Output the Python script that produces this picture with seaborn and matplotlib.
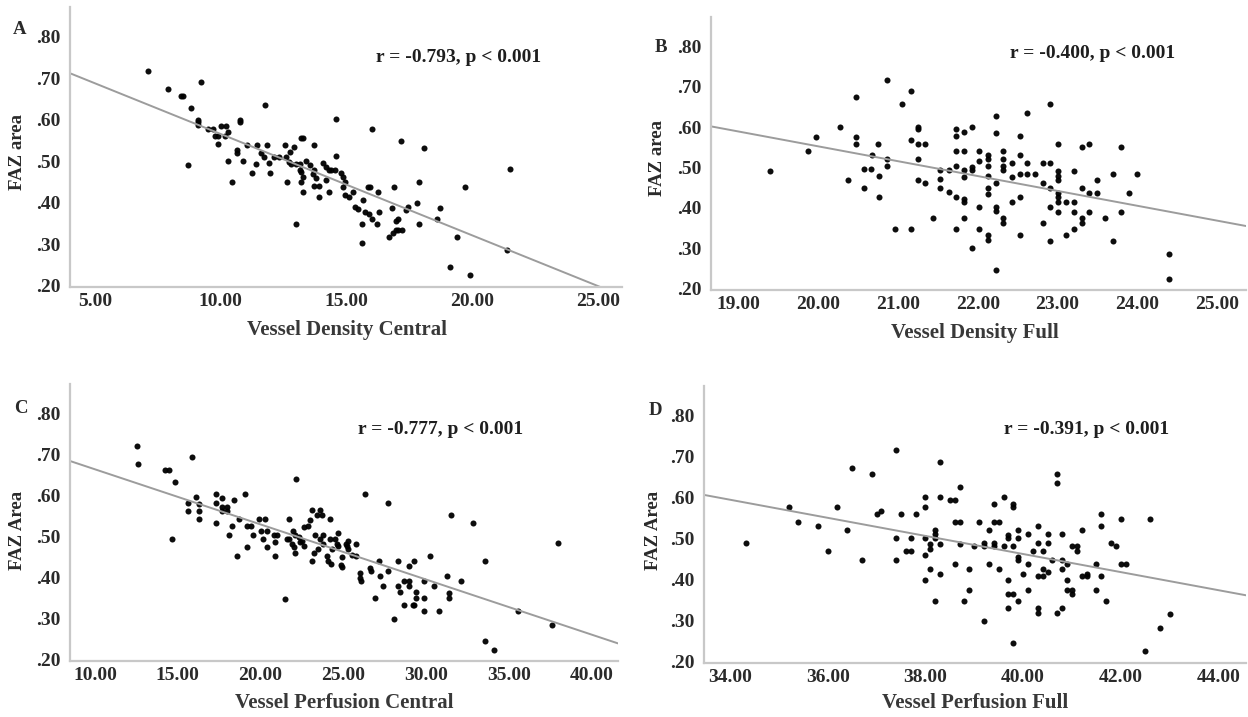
import numpy as np
import matplotlib
matplotlib.use("Agg")
import matplotlib.pyplot as plt
from matplotlib.ticker import FuncFormatter
import seaborn as sns

# ---- data ----
# A: Vessel Density Central vs FAZ area
vd_central = [7.1, 7.9, 8.4, 8.5, 8.8, 9.2, 9.1, 9.1, 9.1, 8.7, 9.5, 9.7, 10.0, 10.2, 9.75, 9.9, 10.15,
              9.9, 10.3, 10.75, 10.75, 10.3, 10.45, 10.65, 10.65, 10.9, 11.05, 11.25, 11.4, 11.45, 11.6,
              11.7, 11.75, 11.85, 11.9, 11.95, 12.1, 12.3, 12.55, 12.6, 12.7, 12.65, 12.75, 12.9, 12.8,
              13.0, 13.15, 13.0, 13.2, 13.25, 13.15, 13.2, 13.25, 13.2, 13.25, 13.4, 13.55, 13.7, 13.7,
              13.65, 13.8, 13.7, 13.9, 13.9, 14.05, 14.2, 14.3, 14.2, 14.4, 14.55, 14.3, 14.6, 14.6,
              14.8, 14.85, 14.95, 14.85, 14.95, 15.1, 15.25, 15.35, 15.45, 15.65, 15.6, 15.6, 15.75,
              15.9, 16.0, 15.85, 15.95, 16.0, 16.25, 16.2, 16.3, 16.7, 16.85, 16.95, 17.05, 17.2, 16.8,
              16.9, 16.95, 17.05, 17.15, 17.35, 17.45, 17.8, 17.9, 17.9, 18.1, 18.6, 18.7, 19.1, 19.4,
              19.7, 19.9, 21.4, 21.5]
faz_a = [.717, .674, .658, .658, .628, .690, .600, .594, .588, .492, .578, .578, .586, .586, .562, .562, .562,
         .541, .570, .600, .594, .500, .450, .528, .520, .500, .540, .472, .493, .540, .520,
         .510, .636, .540, .495, .472, .510, .510, .540, .510, .498, .450, .522, .535, .494,
         .494, .494, .349, .557, .557, .480, .474, .462, .450, .426, .500, .490, .480, .540,
         .470, .460, .440, .440, .414, .495, .487, .478, .455, .480, .480, .426, .512, .602,
         .472, .462, .450, .438, .418, .414, .426, .390, .384, .406, .349, .302, .378,
         .374, .362, .438, .438, .578, .426, .349, .378, .318, .326, .334, .334, .334, .387,
         .438, .355, .362, .550, .382, .390, .400, .450, .349, .532, .362, .387, .246, .318,
         .438, .226, .285, .482]

# B: Vessel Density Full vs FAZ area
vd_full = [19.4, 19.88, 19.98, 20.27, 20.37, 20.47, 20.47, 20.47, 20.57, 20.66, 20.57, 20.67, 20.75, 20.76,
           20.76, 20.86, 20.86, 20.86, 20.96, 21.05, 21.16, 21.16, 21.16, 21.25, 21.25, 21.25, 21.25, 21.25,
           21.34, 21.34, 21.44, 21.53, 21.53, 21.53, 21.64, 21.64, 21.73, 21.73, 21.73, 21.73, 21.73, 21.73,
           21.83, 21.83, 21.83, 21.83, 21.83, 21.83, 21.83, 21.93, 21.93, 21.93, 21.93, 22.02, 22.02, 22.02,
           22.02, 22.13, 22.13, 22.13, 22.13, 22.13, 22.13, 22.13, 22.13, 22.23, 22.23, 22.23, 22.23, 22.23,
           22.23, 22.32, 22.32, 22.32, 22.32, 22.32, 22.32, 22.43, 22.43, 22.43, 22.53, 22.53, 22.53, 22.53,
           22.53, 22.62, 22.62, 22.62, 22.72, 22.82, 22.82, 22.82, 22.91, 22.91, 22.91, 22.91, 22.91, 23.01,
           23.01, 23.01, 23.01, 23.01, 23.01, 23.01, 23.01, 23.1, 23.1, 23.2, 23.2, 23.2, 23.2, 23.3, 23.3,
           23.3, 23.3, 23.4, 23.4, 23.4, 23.5, 23.5, 23.6, 23.7, 23.7, 23.8, 23.8, 23.9, 24.0, 24.4, 24.4]
faz_b = [.490, .540, .576, .600, .470, .673, .576, .557, .497, .497, .450, .530, .557, .480,
         .427, .717, .522, .503, .349, .658, .690, .569, .349, .600, .594, .557, .522, .470,
         .557, .462, .376, .493, .472, .450, .493, .440, .596, .577, .540, .503, .427, .349,
         .588, .540, .493, .477, .423, .415, .376, .600, .502, .493, .300, .540, .517, .402,
         .349, .530, .522, .504, .480, .448, .435, .332, .320, .627, .585, .462, .402, .392,
         .247, .541, .522, .504, .493, .376, .363, .510, .477, .415, .577, .530, .483, .427,
         .332, .510, .483, .635, .483, .510, .462, .363, .658, .510, .450, .402, .318, .557,
         .490, .480, .468, .437, .427, .415, .390, .415, .332, .490, .415, .390, .349, .551, .450,
         .376, .363, .557, .437, .390, .470, .437, .376, .483, .318, .551, .390, .437, .483, .285, .225]

# C: Vessel Perfusion Central vs FAZ Area
vp_central = [12.54, 12.6, 14.26, 14.5, 14.83, 15.86, 14.63, 15.6, 15.6, 16.1, 16.3, 16.3, 16.3, 17.3, 17.34,
              17.34, 17.7, 17.7, 17.7, 17.96, 17.96, 18.08, 18.3, 18.4, 18.57, 18.7, 19.06, 19.2, 19.4, 19.2,
              19.55, 19.9, 20.3, 20.05, 20.4, 20.15, 20.4, 20.8, 21.0, 20.9, 20.9, 21.5, 21.75, 21.6, 21.75,
              21.9, 21.95, 22.1, 22.0, 22.1, 22.14, 22.4, 22.63, 22.63, 22.9, 23.0, 23.1, 23.4, 23.1, 23.25,
              23.6, 23.7, 23.6, 23.8, 23.8, 24.0, 24.2, 24.1, 24.25, 24.5, 24.6, 24.7, 24.7, 24.95, 24.85,
              24.95, 25.17, 25.2, 25.3, 25.8, 25.8, 26.0, 26.0, 26.05, 26.33, 26.6, 26.7, 26.9, 27.15, 27.2,
              27.4, 27.7, 27.7, 28.05, 28.3, 28.3, 28.4, 28.67, 28.67, 29.0, 29.0, 29.0, 29.3, 29.3, 29.2,
              29.4, 29.4, 29.9, 29.9, 29.9, 30.27, 30.5, 30.76, 31.25, 31.4, 31.4, 31.5, 32.1, 32.85, 33.55,
              33.55, 34.1, 35.55, 37.6, 38.0, 22.3, 22.5, 23.3, 24.3, 25.3, 25.5, 24.2, 23.5]
faz_c = [.722, .678, .663, .663, .632, .694, .494, .583, .562, .597, .580, .562, .544, .605, .583,
         .534, .594, .572, .562, .572, .562, .504, .527, .589, .452, .544, .605, .527, .527, .474,
         .504, .544, .544, .515, .515, .494, .474, .504, .504, .486, .452, .348, .544, .494, .494,
         .482, .515, .504, .474, .461, .640, .486, .523, .478, .527, .540, .564, .553, .441, .461,
         .564, .553, .494, .482, .503, .453, .544, .441, .433, .494, .482, .510, .478, .450, .430,
         .425, .482, .478, .490, .482, .452, .412, .400, .392, .605, .424, .416, .350, .441, .404,
         .380, .416, .581, .300, .441, .380, .365, .392, .334, .428, .392, .380, .441, .334, .334,
         .365, .350, .392, .350, .318, .453, .380, .318, .404, .363, .350, .553, .392, .534, .441,
         .246, .225, .318, .285, .484, .500, .490, .505, .470, .470, .455, .495, .470]

# D: Vessel Perfusion Full vs FAZ Area
vp_full = [34.32, 35.2, 35.4, 35.8, 36.0, 36.2, 36.4, 36.5, 36.7, 36.9, 37.0, 37.1, 37.4, 37.4, 37.4, 37.5,
           37.6, 37.7, 37.7, 37.8, 38.0, 38.0, 38.0, 38.0, 38.0, 38.1, 38.1, 38.1, 38.2, 38.2, 38.2, 38.2,
           38.3, 38.3, 38.3, 38.3, 38.5, 38.6, 38.6, 38.7, 38.6, 38.7, 38.7, 38.8, 38.9, 38.9, 39.0, 39.1,
           39.2, 39.2, 39.2, 39.3, 39.3, 39.4, 39.4, 39.4, 39.4, 39.5, 39.5, 39.6, 39.6, 39.7, 39.7, 39.7,
           39.7, 39.7, 39.8, 39.8, 39.8, 39.8, 39.8, 39.9, 39.9, 39.9, 39.9, 39.9, 40.0, 40.1, 40.1, 40.1,
           40.2, 40.3, 40.3, 40.3, 40.3, 40.3, 40.4, 40.4, 40.4, 40.5, 40.5, 40.5, 40.6, 40.7, 40.7, 40.7,
           40.8, 40.8, 40.8, 40.8, 40.9, 40.9, 40.9, 41.0, 41.0, 41.0, 41.1, 41.1, 41.2, 41.2, 41.3, 41.3,
           41.5, 41.5, 41.6, 41.6, 41.6, 41.7, 41.8, 41.9, 42.0, 42.0, 42.1, 42.5, 42.6, 42.8, 43.0]
faz_d = [.490, .576, .540, .530, .470, .576, .522, .673, .449, .658, .560, .568, .717, .502, .449, .560,
         .470, .470, .502, .560, .602, .578, .502, .461, .400, .487, .475, .426, .522, .512, .502, .349,
         .688, .602, .486, .415, .594, .594, .541, .541, .438, .627, .486, .349, .426, .375, .483, .541,
         .490, .483, .300, .522, .438, .490, .483, .584, .541, .541, .426, .602, .483, .508, .502, .400,
         .365, .332, .584, .578, .483, .365, .246, .522, .502, .455, .448, .349, .415, .512, .438, .375,
         .470, .530, .490, .410, .332, .320, .470, .426, .410, .512, .490, .418, .449, .658, .635, .320,
         .512, .449, .426, .332, .438, .400, .375, .483, .375, .365, .483, .470, .522, .410, .410, .415,
         .438, .375, .560, .530, .410, .349, .490, .483, .549, .438, .438, .226, .549, .283, .317]

y_ticks = [.20, .30, .40, .50, .60, .70, .80]

W, H = 1248, 717
INK = "#2a2a2a"
SPINE = "#c8c8c8"
FIT = "#9c9c9c"

sns.set_theme(style="white")
plt.rcParams["font.family"] = ["Liberation Serif", "DejaVu Serif"]
plt.rcParams["font.weight"] = "bold"


def fx(px):
    return px / W


def fy(py):
    return 1 - py / H


panels = [
    dict(x=vd_central, y=faz_a, box=(70, 7, 622, 287), xlim=(4.0, 25.96), xticks=[5, 10, 15, 20, 25],
         letter="A", letter_at=(20, 29), ylabel="FAZ area", ylabel_at=(18, 152),
         xlabel="Vessel Density Central", xlabel_at=(347, 330), stat="r = -0.793, p < 0.001", stat_at=(459, 58)),
    dict(x=vd_full, y=faz_b, box=(711, 17, 1246, 290), xlim=(18.66, 25.36), xticks=[19, 20, 21, 22, 23, 24, 25],
         letter="B", letter_at=(661, 47), ylabel="FAZ area", ylabel_at=(657, 158),
         xlabel="Vessel Density Full", xlabel_at=(975, 333), stat="r = -0.400, p < 0.001", stat_at=(1093, 53)),
    dict(x=vp_central, y=faz_c, box=(70, 384, 618, 661), xlim=(8.49, 41.6), xticks=[10, 15, 20, 25, 30, 35, 40],
         letter="C", letter_at=(21, 408), ylabel="FAZ Area", ylabel_at=(18, 530),
         xlabel="Vessel Perfusion Central", xlabel_at=(344, 703), stat="r = -0.777, p < 0.001", stat_at=(441, 430)),
    dict(x=vp_full, y=faz_d, box=(704, 386, 1246, 663), xlim=(33.47, 44.56), xticks=[34, 36, 38, 40, 42, 44],
         letter="D", letter_at=(655, 410), ylabel="FAZ Area", ylabel_at=(654, 530),
         xlabel="Vessel Perfusion Full", xlabel_at=(975, 703), stat="r = -0.391, p < 0.001", stat_at=(1087, 430)),
]

fig = plt.figure(figsize=(W / 100, H / 100), dpi=100)
fig.patch.set_facecolor("white")

for p in panels:
    l, t, r, b = p["box"]
    ax = fig.add_axes([fx(l), fy(b), fx(r) - fx(l), fy(t) - fy(b)])
    ax.set_xlim(*p["xlim"])
    ax.set_ylim(0.197, 0.872)
    # scatter + least-squares fit line spanning the full x axis (SPSS style)
    sns.regplot(x=np.array(p["x"]), y=np.array(p["y"]), ax=ax, ci=None, truncate=False,
                scatter_kws=dict(s=19, color="black", linewidths=0, alpha=0.95),
                line_kws=dict(color=FIT, lw=1.4, zorder=1))
    ax.set_xlim(*p["xlim"])
    ax.set_ylim(0.197, 0.872)
    ax.set_xticks(p["xticks"])
    ax.set_yticks(y_ticks)
    ax.xaxis.set_major_formatter(FuncFormatter(lambda v, _: f"{v:.2f}"))
    ax.yaxis.set_major_formatter(FuncFormatter(lambda v, _: f".{int(round(v * 100)):02d}"))
    ax.tick_params(axis="both", length=0, labelsize=14, labelcolor=INK)
    ax.tick_params(axis="x", pad=4)
    ax.tick_params(axis="y", pad=7)
    ax.set_xlabel("")
    ax.set_ylabel("")
    for side in ["top", "right"]:
        ax.spines[side].set_visible(False)
    for side in ["left", "bottom"]:
        ax.spines[side].set_color(SPINE)
        ax.spines[side].set_linewidth(1.6)
    ax.set_facecolor("white")
    ax.grid(False)

    fig.text(fx(p["letter_at"][0]), fy(p["letter_at"][1]), p["letter"], fontsize=13.5,
             fontweight="bold", color=INK, ha="center", va="center")
    fig.text(fx(p["ylabel_at"][0]), fy(p["ylabel_at"][1]), p["ylabel"], fontsize=13.5,
             fontweight="bold", color=INK, rotation=90, ha="center", va="center")
    fig.text(fx(p["xlabel_at"][0]), fy(p["xlabel_at"][1]), p["xlabel"], fontsize=15,
             fontweight="bold", color="#383838", ha="center", va="center")
    fig.text(fx(p["stat_at"][0]), fy(p["stat_at"][1]), p["stat"], fontsize=14,
             fontweight="bold", color="#1e1e1e", ha="center", va="center")

fig.savefig("out.png", dpi=100, facecolor="white")
